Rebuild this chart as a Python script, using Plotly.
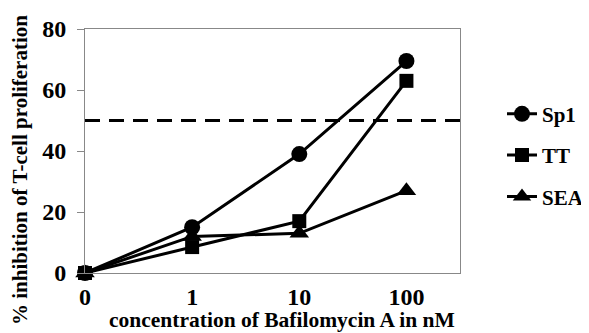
import plotly.graph_objects as go

categories = ["0", "1", "10", "100"]
sp1 = [0, 15, 39, 69.5]
tt = [0, 8.5, 17, 63]
sea = [0, 12, 13, 27]
threshold = 50
y_ticks = [0, 20, 40, 60, 80]

xpos = list(range(len(categories)))
font_family = "Liberation Serif"

fig = go.Figure()
series = [("Sp1", sp1, "circle", 16), ("TT", tt, "square", 14), ("SEA", sea, "triangle-up", 17)]
for i, (name, vals, sym, sz) in enumerate(series):
    fig.add_trace(go.Scatter(
        x=xpos, y=vals, name=name, mode="lines+markers",
        line=dict(color="black", width=3),
        marker=dict(symbol=sym, size=sz, color="black"),
        cliponaxis=False, legendgroup=name,
    ))

fig.add_trace(go.Scatter(
    x=[0, 3.5], y=[threshold, threshold], mode="lines",
    line=dict(color="black", width=3, dash="15px,9px"),
    showlegend=False, hoverinfo="skip",
))

fig.add_annotation(
    text="% inhibition of T-cell proliferation", textangle=-90,
    xref="paper", yref="paper", x=0, y=0.422, xshift=-65,
    xanchor="center", yanchor="middle", showarrow=False,
    font=dict(size=21, family=font_family, weight="bold", color="black"),
)
fig.add_annotation(
    text="concentration of Bafilomycin A in nM",
    xref="paper", yref="paper", x=0.525, y=0, yshift=-47,
    xanchor="center", yanchor="middle", showarrow=False,
    font=dict(size=21.5, family=font_family, weight="bold", color="black"),
)

fig.update_layout(
    width=581, height=325,
    margin=dict(l=77, r=129, t=21, b=60),
    plot_bgcolor="white", paper_bgcolor="white",
    font=dict(family=font_family, color="black"),
    showlegend=True,
    legend=dict(x=1.0, y=0.735, xanchor="right", yanchor="top", xref="container",
                font=dict(size=21, family=font_family, weight="bold"),
                tracegroupgap=11, traceorder="grouped"),
    xaxis=dict(
        range=[0, 3.5], tickmode="array", tickvals=xpos, ticktext=categories,
        showgrid=False, zeroline=False, showline=True, mirror=True,
        linecolor="#888", linewidth=1, ticks="outside", ticklen=2,
        tickcolor="rgba(0,0,0,0)", automargin=False,
        tickfont=dict(size=24, family=font_family, weight="bold"),
    ),
    yaxis=dict(
        range=[0, 80], tickmode="array", tickvals=y_ticks,
        showgrid=False, zeroline=False, showline=True, mirror=True,
        linecolor="#888", linewidth=1, ticks="outside", ticklen=7, tickcolor="#888",
        ticklabelstandoff=6, automargin=False,
        tickfont=dict(size=24, family=font_family, weight="bold"),
    ),
)

fig.write_html("out.html")
